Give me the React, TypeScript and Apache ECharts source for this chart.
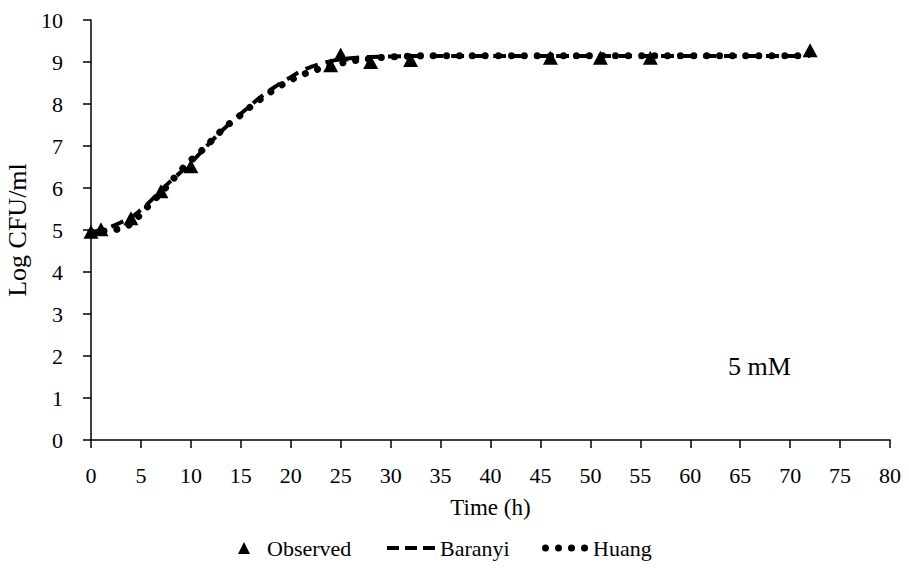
import React, { useEffect, useRef } from "react";
import * as echarts from "echarts";

const observedTime = [0, 1, 4, 7, 10, 24, 25, 28, 32, 46, 51, 56, 72];
const observedLog = [4.96, 5.02, 5.28, 5.92, 6.52, 8.92, 9.18, 9.0, 9.05, 9.1, 9.1, 9.1, 9.28];

const modelTime = [0, 1, 2, 3, 4, 5, 6, 7, 8, 9, 10, 11, 12, 13, 14, 15, 16, 17, 18, 19, 20, 21, 22, 23, 24, 25, 26, 28, 30, 32, 35, 40, 45, 50, 55, 60, 65, 72];
const baranyiLog = [4.95, 5.0, 5.08, 5.18, 5.3, 5.48, 5.7, 5.94, 6.17, 6.38, 6.6, 6.85, 7.1, 7.34, 7.56, 7.77, 7.97, 8.17, 8.34, 8.5, 8.64, 8.78, 8.88, 8.96, 9.02, 9.06, 9.09, 9.12, 9.13, 9.14, 9.14, 9.14, 9.14, 9.14, 9.14, 9.14, 9.14, 9.14];
const huangLog = [4.95, 4.97, 5.0, 5.04, 5.15, 5.38, 5.64, 5.88, 6.15, 6.42, 6.66, 6.87, 7.11, 7.35, 7.56, 7.74, 7.94, 8.12, 8.29, 8.44, 8.57, 8.68, 8.77, 8.85, 8.92, 8.97, 9.02, 9.08, 9.12, 9.14, 9.15, 9.15, 9.15, 9.15, 9.15, 9.15, 9.15, 9.15];

const seriesNames = ["Observed", "Baranyi", "Huang"];
const annotation = "5 mM";

const FONT = "Liberation Serif";

const triangleIcon = "path://M0,0 M31,12 M7,12 L13,0 L19,12 Z";
const dashIcon = "path://M0,0 h12 v4 h-12 Z M18,0 h12 v4 h-12 Z M36,0 h12 v4 h-12 Z";
const dotIcon =
  "path://M0,3.5 a3.5,3.5 0 1,0 7,0 a3.5,3.5 0 1,0 -7,0 Z M13,3.5 a3.5,3.5 0 1,0 7,0 a3.5,3.5 0 1,0 -7,0 Z M26,3.5 a3.5,3.5 0 1,0 7,0 a3.5,3.5 0 1,0 -7,0 Z M39,3.5 a3.5,3.5 0 1,0 7,0 a3.5,3.5 0 1,0 -7,0 Z";

export default function App() {
  const ref = useRef<HTMLDivElement>(null);
  useEffect(() => {
    if (!ref.current) return;
    const chart = echarts.init(ref.current, null, { renderer: "svg" });
    const zip = (xs: number[], ys: number[]) => xs.map((x, i) => [x, ys[i]]);
    const legendText = { fontFamily: FONT, fontSize: 22, color: "#000" };
    const legendBase = {
      top: 532,
      itemGap: 0,
      padding: 5,
      textStyle: legendText,
      itemStyle: { borderWidth: 0 },
      selectedMode: false,
    };
    chart.setOption({
      animation: false,
      backgroundColor: "#ffffff",
      textStyle: { fontFamily: FONT, color: "#000" },
      grid: { left: 91, right: 19, top: 20, bottom: 140, containLabel: false, outerBoundsMode: "none" },
      xAxis: {
        type: "value",
        min: 0,
        max: 80,
        interval: 5,
        name: "Time (h)",
        nameLocation: "middle",
        nameGap: 56,
        nameTextStyle: { fontFamily: FONT, fontSize: 23, color: "#000" },
        axisLine: { lineStyle: { color: "#000", width: 1.5 } },
        axisTick: { show: true, inside: false, length: 8, lineStyle: { color: "#000", width: 1.5 } },
        axisLabel: { fontFamily: FONT, fontSize: 22, color: "#000", margin: 24 },
        splitLine: { show: false },
      },
      yAxis: {
        type: "value",
        min: 0,
        max: 10,
        interval: 1,
        name: "Log CFU/ml",
        nameLocation: "middle",
        nameGap: 56,
        nameRotate: 90,
        nameTextStyle: { fontFamily: FONT, fontSize: 26, color: "#000" },
        axisLine: { show: true, lineStyle: { color: "#000", width: 1.5 } },
        axisTick: { show: true, inside: false, length: 8, lineStyle: { color: "#000", width: 1.5 } },
        axisLabel: { fontFamily: FONT, fontSize: 22, color: "#000", margin: 28 },
        splitLine: { show: false },
      },
      legend: [
        {
          ...legendBase,
          left: 226,
          itemWidth: 31,
          itemHeight: 12,
          data: [{ name: seriesNames[0], icon: triangleIcon }],
        },
        {
          ...legendBase,
          left: 382,
          itemWidth: 48,
          itemHeight: 4,
          data: [{ name: seriesNames[1], icon: dashIcon }],
        },
        {
          ...legendBase,
          left: 537,
          itemWidth: 46,
          itemHeight: 7,
          data: [{ name: seriesNames[2], icon: dotIcon }],
        },
      ],
      graphic: [
        {
          type: "text",
          left: 728,
          top: 353,
          style: { text: annotation, fontFamily: FONT, fontSize: 26, fill: "#000" },
        },
      ],
      series: [
        {
          name: seriesNames[1],
          type: "line",
          data: zip(modelTime, baranyiLog),
          showSymbol: false,
          symbol: "none",
          smooth: true,
          lineStyle: { color: "#000", width: 4, type: [13, 8], cap: "butt" },
          itemStyle: { color: "#000" },
          z: 3,
        },
        {
          name: seriesNames[2],
          type: "line",
          data: zip(modelTime, huangLog),
          showSymbol: false,
          symbol: "none",
          smooth: true,
          lineStyle: { color: "#000", width: 7, type: [0.01, 13], cap: "round" },
          itemStyle: { color: "#000" },
          z: 4,
        },
        {
          name: seriesNames[0],
          type: "scatter",
          data: zip(observedTime, observedLog),
          symbol: "triangle",
          symbolSize: [15, 14],
          itemStyle: { color: "#000", opacity: 1 },
          z: 5,
        },
      ],
    });
    return () => chart.dispose();
  }, []);
  return (
    <div
      ref={ref}
      style={{ position: "absolute", left: 0, top: 0, width: 909, height: 580 }}
    />
  );
}
